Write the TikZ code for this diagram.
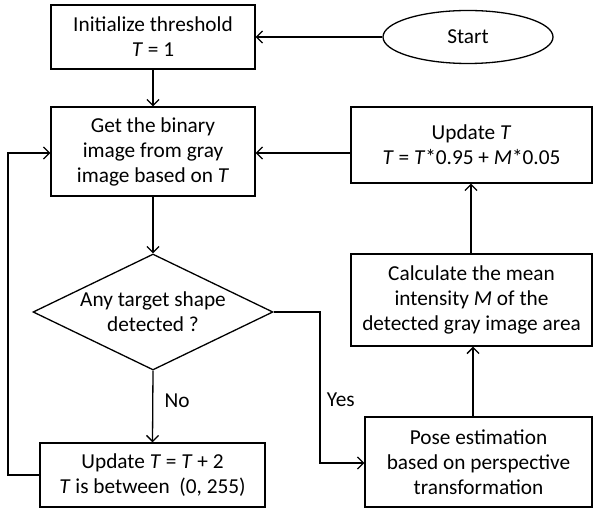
\documentclass[tikz,border=0pt]{standalone}
\usepackage{fontspec}
\setmainfont{Carlito}
\usetikzlibrary{shapes.geometric,arrows.meta}
\begin{document}
\begin{tikzpicture}[x=1pt,y=-1pt,
  font=\fontsize{21.3}{25}\selectfont,
  every node/.style={line width=1.3pt},
  box/.style={draw, rectangle, align=center, inner sep=0pt},
  line/.style={draw, line width=1.3pt},
  arr/.style={line, -{Straight Barb[length=6pt,width=12pt,line width=1.3pt]}}]
\useasboundingbox (0,0) rectangle (593,510);

\node[box, minimum width=204pt, minimum height=64pt] (init) at (153,37) {Initialize threshold\\\textit{T} = 1};
\node[draw, ellipse, minimum width=170pt, minimum height=53pt, inner sep=0pt] (start) at (468,37) {Start};
\node[box, minimum width=204pt, minimum height=89pt] (bin) at (153,151.5) {Get the binary\\image from gray\\image based on \textit{T}};
\node[draw, diamond, aspect=2.07, minimum width=240pt, minimum height=116pt, inner sep=0pt, align=center] (dec) at (153,312) {Any target shape\\detected ?};
\node[box, minimum width=225pt, minimum height=64pt] (inc) at (152.5,475) {Update \textit{T} = \textit{T} + 2\\\textit{T} is between~ (0, 255)};
\node[box, minimum width=241pt, minimum height=76pt] (upd) at (471.5,145) {Update \textit{T}\\\textit{T} = \textit{T}*0.95 + \textit{M}*0.05};
\node[box, minimum width=241pt, minimum height=92pt] (calc) at (471.5,300) {Calculate the mean\\intensity \textit{M} of the\\detected gray image area};
\node[box, minimum width=227pt, minimum height=90pt] (pose) at (478.5,462) {Pose estimation\\based on perspective\\transformation};

\coordinate (loopL) at (8,475);
\coordinate (yesR) at (320,312);

\draw[arr] (start.west) -- (init.east);
\draw[arr] (init.south) -- (bin.north);
\draw[arr] (bin.south) -- (dec.north);
\draw[arr] (dec.south) -- node[right, xshift=8pt, yshift=6pt] {No} (inc.north);
\draw[arr] (inc.west) -- (loopL) |- (bin.west |- 0,153);
\draw[arr] (dec.east) -- (yesR) |- node[pos=0.29, right, xshift=3pt] {Yes} (pose.west |- 0,463);
\draw[arr] (pose.north -| 473,0) -- (calc.south -| 473,0);
\draw[arr] (calc.north -| 471,0) -- (upd.south -| 471,0);
\draw[arr] (upd.west |- 0,153) -- (bin.east |- 0,153);
\end{tikzpicture}
\end{document}
